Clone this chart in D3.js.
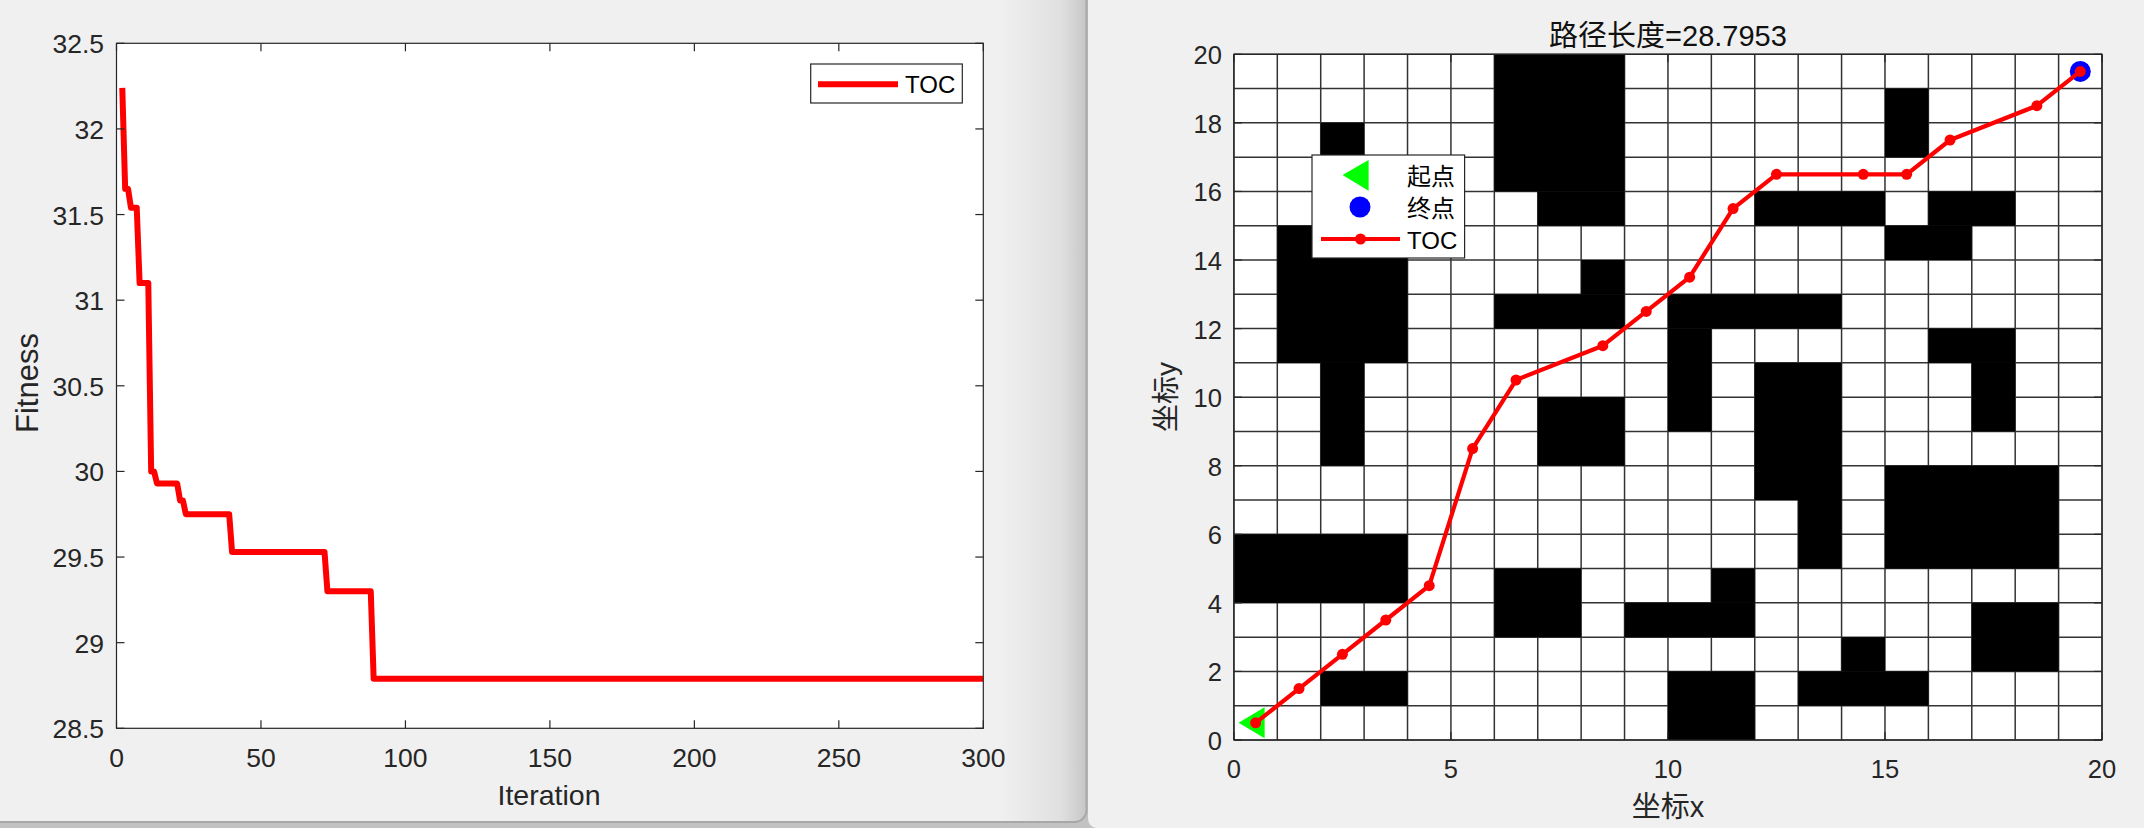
<!DOCTYPE html>
<html>
<head>
<meta charset="utf-8">
<script src="https://cdn.jsdelivr.net/npm/d3@7"></script>
<style>
  html, body { margin: 0; padding: 0; background: #f0f0f0; overflow: hidden; }
  text { font-family: "Liberation Sans", "Noto Sans CJK SC", sans-serif; }
</style>
</head>
<body>
<script>
// convergence curve, only the iterations where it changes
const iterations = [2, 3, 4, 5, 7, 8, 11, 12, 13, 14, 21, 22, 23, 24, 39, 40, 72, 73, 88, 89, 300];
const fitness = [32.24, 31.65, 31.65, 31.54, 31.54, 31.1, 31.1, 30.0, 30.0, 29.93, 29.93, 29.83, 29.83, 29.75, 29.75, 29.53, 29.53, 29.3, 29.3, 28.79, 28.79];
const fitnessTicks = [28.5, 29, 29.5, 30, 30.5, 31, 31.5, 32, 32.5];
const iterationTicks = [0, 50, 100, 150, 200, 250, 300];

// obstacles as x0, y0, x1, y1 in map cells
const obstacles = [
  [6, 16, 9, 20], [7, 15, 9, 16], [2, 17, 3, 18], [1, 11, 4, 15], [2, 8, 3, 11],
  [8, 13, 9, 14], [6, 12, 9, 13], [15, 17, 16, 19], [12, 15, 15, 16], [16, 15, 18, 16],
  [15, 14, 17, 15], [10, 12, 14, 13], [10, 9, 11, 12], [12, 7, 14, 11], [13, 5, 14, 7],
  [16, 11, 18, 12], [17, 9, 18, 11], [7, 8, 9, 10], [0, 4, 4, 6], [6, 3, 8, 5],
  [9, 3, 12, 4], [11, 4, 12, 5], [2, 1, 4, 2], [10, 0, 12, 2], [13, 1, 16, 2],
  [14, 2, 15, 3], [15, 5, 19, 8], [17, 2, 19, 4]
];
const pathX = [0.5, 1.5, 2.5, 3.5, 4.5, 5.5, 6.5, 8.5, 9.5, 10.5, 11.5, 12.5, 14.5, 15.5, 16.5, 18.5, 19.5];
const pathY = [0.5, 1.5, 2.5, 3.5, 4.5, 8.5, 10.5, 11.5, 12.5, 13.5, 15.5, 16.5, 16.5, 16.5, 17.5, 18.5, 19.5];
const mapXTicks = [0, 5, 10, 15, 20];
const mapYTicks = [0, 2, 4, 6, 8, 10, 12, 14, 16, 18, 20];
const gridLines = d3.range(0, 21);

const textColor = "#262626";
const red = "#ff0000";

const svg = d3.select("body").append("svg")
  .attr("width", 2144)
  .attr("height", 828)
  .style("display", "block");

// window background: two figure windows, the left one with a shaded rounded edge
const defs = svg.append("defs");
const shade = defs.append("linearGradient")
  .attr("id", "shade")
  .attr("gradientUnits", "userSpaceOnUse")
  .attr("x1", 1000).attr("x2", 1087).attr("y1", 0).attr("y2", 0);
shade.append("stop").attr("offset", "0%").attr("stop-color", "#f0f0f0");
shade.append("stop").attr("offset", "70%").attr("stop-color", "#e0e0e0");
shade.append("stop").attr("offset", "100%").attr("stop-color", "#c6c6c6");
svg.append("rect").attr("width", 2144).attr("height", 828).attr("fill", "#c2c2c2");
svg.append("rect")
  .attr("x", -20).attr("y", -20).attr("width", 1106.5).attr("height", 842)
  .attr("rx", 12)
  .attr("fill", "url(#shade)").attr("stroke", "#a8a8a8").attr("stroke-width", 2);
svg.append("path")
  .attr("d", "M1088,0H2144V828H1096Q1088,826 1088,818Z")
  .attr("fill", "#f0f0f0");

// draws box, inward ticks on all four sides and the tick labels
function drawAxes(g, x, y, xTicks, yTicks, fontSize, xLabelY, yLabelGap) {
  const [x0, x1] = x.range();
  const [y0, y1] = y.range();
  g.append("g").selectAll("line").data(xTicks).join("line")
    .attr("x1", d => x(d)).attr("x2", d => x(d)).attr("y1", y0).attr("y2", y0 - 8);
  g.append("g").selectAll("line").data(xTicks).join("line")
    .attr("x1", d => x(d)).attr("x2", d => x(d)).attr("y1", y1).attr("y2", y1 + 8);
  g.append("g").selectAll("line").data(yTicks).join("line")
    .attr("x1", x0).attr("x2", x0 + 8).attr("y1", d => y(d)).attr("y2", d => y(d));
  g.append("g").selectAll("line").data(yTicks).join("line")
    .attr("x1", x1).attr("x2", x1 - 8).attr("y1", d => y(d)).attr("y2", d => y(d));
  g.selectAll("line").attr("stroke", textColor).attr("stroke-width", 1.2);
  g.append("rect")
    .attr("x", x0).attr("y", y1)
    .attr("width", x1 - x0).attr("height", y0 - y1)
    .attr("fill", "none").attr("stroke", textColor).attr("stroke-width", 1.2);

  g.append("g").selectAll("text").data(xTicks).join("text")
    .attr("x", d => x(d)).attr("y", xLabelY)
    .attr("text-anchor", "middle")
    .attr("font-size", fontSize).attr("fill", textColor)
    .text(d => d);
  g.append("g").selectAll("text").data(yTicks).join("text")
    .attr("x", x0 - yLabelGap).attr("y", d => y(d) + 10)
    .attr("text-anchor", "end")
    .attr("font-size", fontSize).attr("fill", textColor)
    .text(d => d);
}

// left: convergence curve
const xFit = d3.scaleLinear().domain([0, 300]).range([116.5, 983.3]);
const yFit = d3.scaleLinear().domain([28.5, 32.5]).range([728.3, 43.3]);
const left = svg.append("g");

left.append("rect")
  .attr("x", 116.5).attr("y", 43.3)
  .attr("width", xFit(300) - xFit(0)).attr("height", yFit(28.5) - yFit(32.5))
  .attr("fill", "#fff");

defs.append("clipPath").attr("id", "fitClip").append("rect")
  .attr("x", 116.5).attr("y", 43.3)
  .attr("width", xFit(300) - xFit(0)).attr("height", yFit(28.5) - yFit(32.5));

const fitLine = d3.line().x(i => xFit(iterations[i])).y(i => yFit(fitness[i]));
left.append("path")
  .attr("d", fitLine(d3.range(iterations.length)))
  .attr("clip-path", "url(#fitClip)")
  .attr("fill", "none")
  .attr("stroke", red)
  .attr("stroke-width", 6)
  .attr("stroke-linejoin", "round");

drawAxes(left, xFit, yFit, iterationTicks, fitnessTicks, 26.5, 766.5, 12.5);

left.append("text")
  .attr("x", 549).attr("y", 805)
  .attr("text-anchor", "middle").attr("font-size", 28.5).attr("fill", textColor)
  .text("Iteration");
left.append("text")
  .attr("transform", "translate(38,383) rotate(-90)")
  .attr("text-anchor", "middle").attr("font-size", 31).attr("fill", textColor)
  .text("Fitness");

// left legend
const fitLegend = left.append("g");
fitLegend.append("rect")
  .attr("x", 810.7).attr("y", 64).attr("width", 151.6).attr("height", 39)
  .attr("fill", "#fff").attr("stroke", textColor).attr("stroke-width", 1.2);
fitLegend.append("line")
  .attr("x1", 818).attr("x2", 898).attr("y1", 84.3).attr("y2", 84.3)
  .attr("stroke", red).attr("stroke-width", 6);
fitLegend.append("text")
  .attr("x", 905).attr("y", 93)
  .attr("font-size", 24).attr("fill", "#000")
  .text("TOC");

// right: grid map with the path
const xMap = d3.scaleLinear().domain([0, 20]).range([1233.9, 2102]);
const yMap = d3.scaleLinear().domain([0, 20]).range([740, 54.3]);
const right = svg.append("g");

right.append("rect")
  .attr("x", 1233.9).attr("y", 54.3)
  .attr("width", xMap(20) - xMap(0)).attr("height", yMap(0) - yMap(20))
  .attr("fill", "#fff");

right.append("g").selectAll("line").data(gridLines).join("line")
  .attr("x1", d => xMap(d)).attr("x2", d => xMap(d))
  .attr("y1", yMap(0)).attr("y2", yMap(20))
  .attr("stroke", "#333").attr("stroke-width", 1.5);
right.append("g").selectAll("line").data(gridLines).join("line")
  .attr("x1", xMap(0)).attr("x2", xMap(20))
  .attr("y1", d => yMap(d)).attr("y2", d => yMap(d))
  .attr("stroke", "#333").attr("stroke-width", 1.5);

right.append("g").selectAll("rect").data(obstacles).join("rect")
  .attr("x", d => xMap(d[0])).attr("y", d => yMap(d[3]))
  .attr("width", d => xMap(d[2]) - xMap(d[0]))
  .attr("height", d => yMap(d[1]) - yMap(d[3]))
  .attr("fill", "#000");

const mapAxes = right.append("g");
drawAxes(mapAxes, xMap, yMap, mapXTicks, mapYTicks, 25.5, 778, 12);

// start and end markers
const triangle = "M-17,0L9,-15.5L9,15.5Z";
right.append("path")
  .attr("transform", `translate(${xMap(pathX[0])},${yMap(pathY[0])})`)
  .attr("d", triangle).attr("fill", "#00ff00");
right.append("circle")
  .attr("cx", xMap(pathX[pathX.length - 1])).attr("cy", yMap(pathY[pathY.length - 1]))
  .attr("r", 10.5).attr("fill", "#0000ff");

const pathLine = d3.line().x(i => xMap(pathX[i])).y(i => yMap(pathY[i]));
right.append("path")
  .attr("d", pathLine(d3.range(pathX.length)))
  .attr("fill", "none").attr("stroke", red)
  .attr("stroke-width", 4.2).attr("stroke-linejoin", "round");
right.append("g").selectAll("circle").data(d3.range(pathX.length)).join("circle")
  .attr("cx", i => xMap(pathX[i])).attr("cy", i => yMap(pathY[i]))
  .attr("r", 5.5).attr("fill", red);

right.append("text")
  .attr("x", 1668).attr("y", 46)
  .attr("text-anchor", "middle").attr("font-size", 29).attr("fill", "#111")
  .text("路径长度=28.7953");
right.append("text")
  .attr("x", 1668).attr("y", 817)
  .attr("text-anchor", "middle").attr("font-size", 29).attr("fill", textColor)
  .text("坐标x");
right.append("text")
  .attr("transform", "translate(1176,397) rotate(-90)")
  .attr("text-anchor", "middle").attr("font-size", 28).attr("fill", textColor)
  .text("坐标y");

// right legend
const mapLegend = right.append("g");
mapLegend.append("rect")
  .attr("x", 1312).attr("y", 155).attr("width", 152.6).attr("height", 103)
  .attr("fill", "#fff").attr("stroke", textColor).attr("stroke-width", 1.2);
mapLegend.append("path")
  .attr("d", "M1342.5,175L1368.6,160L1368.6,190.7Z").attr("fill", "#00ff00");
mapLegend.append("circle").attr("cx", 1360).attr("cy", 207).attr("r", 10.5).attr("fill", "#0000ff");
mapLegend.append("line")
  .attr("x1", 1321).attr("x2", 1400).attr("y1", 239).attr("y2", 239)
  .attr("stroke", red).attr("stroke-width", 4.2);
mapLegend.append("circle").attr("cx", 1360.5).attr("cy", 239).attr("r", 5.5).attr("fill", red);
mapLegend.selectAll("text.entry").data(["起点", "终点", "TOC"]).join("text")
  .attr("class", "entry")
  .attr("x", 1407).attr("y", (d, i) => 185 + i * 32)
  .attr("font-size", 24).attr("fill", "#000")
  .text(d => d);
</script>
</body>
</html>
